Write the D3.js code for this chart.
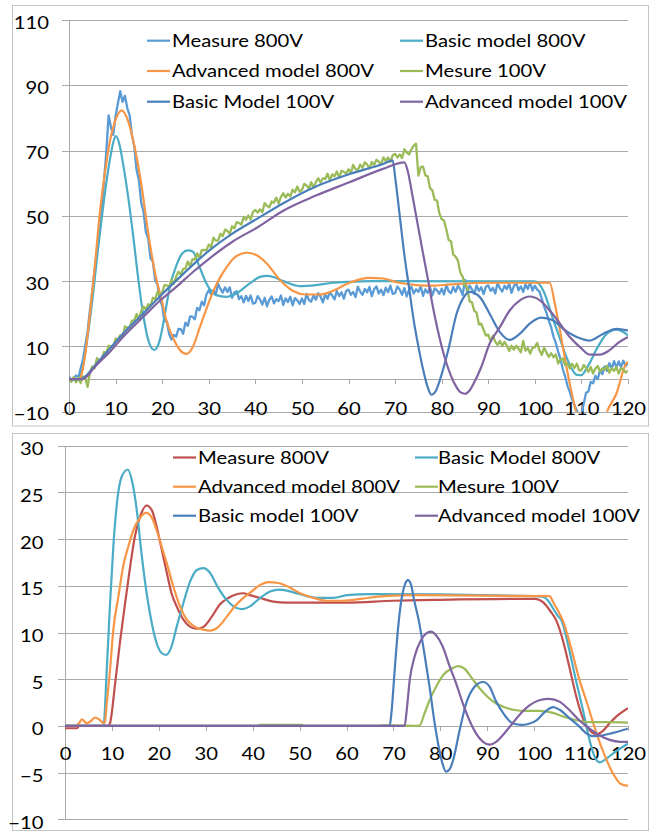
<!DOCTYPE html>
<html>
<head>
<meta charset="utf-8">
<script src="https://cdnjs.cloudflare.com/ajax/libs/d3/7.8.5/d3.min.js"></script>
<style>
  body { margin: 0; background: #fff; }
  svg { display: block; }
  text { font-family: Lato, "Liberation Sans", sans-serif; font-size: 18px; fill: #000; }
</style>
</head>
<body>
<svg id="chart" width="653" height="832"></svg>
<script>
// ---------- shared axis values ----------
const xTickValues = [0, 10, 20, 30, 40, 50, 60, 70, 80, 90, 100, 110, 120];
const topYTicks = [-10, 10, 30, 50, 70, 90, 110];
const bottomYTicks = [-10, -5, 0, 5, 10, 15, 20, 25, 30];

// ---------- upper chart: sampled measurements (one value every 0.5) ----------
const sampleStep = 0.5;
const topMeasure800 = [
  0.8, -0.6, 0.2, 1.1, 0.4, 3.2, 6.0, 10.4, 14.6, 21.3,
  26.8, 33.5, 39.4, 46.5, 52.6, 60.3, 69.4, 80.8, 77.2, 74.8,
  80.6, 84.5, 88.2, 84.9, 86.8, 83.1, 80.9, 74.8, 71.4, 64.1,
  61.0, 54.0, 51.3, 45.0, 43.1, 37.0, 36.0, 30.2, 28.9, 24.3,
  22.5, 17.7, 17.7, 13.7, 12.1, 13.5, 13.0, 15.4, 15.3, 13.9,
  17.3, 16.3, 19.2, 19.1, 18.3, 21.8, 21.1, 23.7, 22.6, 25.9,
  27.2, 26.0, 27.3, 25.9, 29.2, 27.6, 26.5, 28.1, 26.7, 28.1,
  24.9, 26.5, 26.9, 24.5, 25.4, 23.5, 25.5, 23.9, 25.6, 23.1,
  23.3, 25.4, 24.4, 22.8, 24.9, 22.3, 24.3, 25.3, 23.2, 24.5,
  23.9, 25.6, 22.7, 24.7, 23.6, 25.2, 22.6, 24.8, 24.1, 23.0,
  24.7, 23.0, 26.1, 24.2, 23.7, 25.7, 24.3, 26.3, 25.3, 23.5,
  26.0, 24.6, 26.6, 25.6, 24.4, 27.0, 25.4, 26.6, 24.6, 27.0,
  27.4, 25.8, 26.7, 25.1, 28.3, 26.8, 25.8, 27.6, 26.6, 28.2,
  25.4, 27.5, 28.4, 26.2, 27.4, 25.7, 28.0, 26.6, 28.6, 26.1,
  26.3, 28.4, 27.4, 25.8, 27.9, 25.3, 27.3, 28.3, 26.2, 27.5,
  26.7, 28.4, 25.5, 27.5, 26.4, 28.1, 25.6, 27.8, 27.2, 26.1,
  27.7, 25.9, 28.9, 26.9, 26.3, 28.2, 26.7, 28.6, 27.5, 25.7,
  30.4, 26.6, 28.6, 27.5, 26.1, 28.7, 27.0, 28.1, 26.0, 28.3,
  28.7, 27.0, 27.9, 26.2, 29.4, 27.8, 26.8, 28.6, 27.6, 29.2,
  26.4, 28.5, 29.4, 27.2, 28.4, 26.7, 29.0, 27.6, 29.6, 27.1,
  28.6, 27.4, 26.8, 24.6, 22.2, 20.3, 17.9, 15.9, 13.0, 11.1,
  8.4, 6.2, 3.0, 0.8, -2.0, -3.9, -6.3, -7.9, -9.6, -10.8,
  -10.6, -7.5, -4.2, -3.8, -0.9, -1.3, 1.0, 0.0, 2.7, 1.5,
  3.9, 2.5, 4.9, 3.2, 5.5, 3.6, 5.4, 3.7, 5.6, 4.0,
  5.1
];
const topMesure100 = [
  0.4, -0.8, 0.6, -1.0, 0.3, -1.2, 0.8, 0.2, -2.4, 2.2,
  3.9, 3.3, 6.4, 5.7, 6.0, 8.3, 7.9, 10.2, 10.1, 9.5,
  12.4, 12.0, 13.4, 12.9, 16.1, 15.8, 15.7, 17.9, 17.9, 19.9,
  18.4, 20.8, 22.2, 21.3, 22.9, 22.4, 24.9, 24.5, 26.7, 25.6,
  26.5, 28.8, 28.7, 28.2, 30.5, 29.2, 31.4, 32.9, 32.0, 33.7,
  33.9, 36.0, 34.5, 36.7, 36.6, 38.5, 37.1, 39.5, 39.6, 39.4,
  41.2, 40.4, 43.3, 42.4, 42.4, 44.5, 43.8, 45.8, 45.4, 44.5,
  46.8, 46.2, 48.1, 47.8, 47.3, 49.7, 48.8, 50.1, 48.9, 51.2,
  51.8, 51.0, 52.0, 51.1, 53.9, 53.1, 52.6, 54.4, 54.0, 55.6,
  53.8, 55.8, 56.9, 55.6, 56.8, 55.9, 58.0, 57.2, 59.0, 57.4,
  57.9, 59.8, 59.3, 58.4, 60.3, 58.6, 60.4, 61.5, 60.2, 61.5,
  61.3, 62.9, 60.9, 62.7, 62.1, 63.6, 61.8, 63.8, 63.5, 62.9,
  64.3, 63.1, 65.6, 64.3, 64.0, 65.7, 64.7, 66.4, 65.7, 64.5,
  66.5, 65.6, 67.2, 66.6, 65.8, 67.9, 66.8, 67.9, 66.5, 68.6,
  69.0, 67.9, 68.8, 67.7, 70.4, 69.4, 68.8, 70.4, 71.5, 72.1,
  62.3, 64.9, 65.1, 62.4, 62.1, 58.5, 57.8, 54.9, 54.7, 50.8,
  49.0, 48.6, 45.8, 42.6, 42.2, 38.1, 37.5, 36.2, 32.6, 31.4,
  28.7, 28.0, 23.8, 23.5, 20.9, 20.4, 16.7, 17.0, 15.1, 13.3,
  13.6, 11.6, 13.3, 11.4, 10.5, 11.7, 10.1, 11.4, 10.2, 8.6,
  10.2, 9.0, 10.2, 9.3, 8.2, 11.7, 8.7, 9.5, 7.8, 9.6,
  9.7, 11.1, 8.8, 7.4, 9.6, 8.1, 6.8, 7.9, 6.7, 7.5,
  4.8, 6.0, 6.3, 4.3, 4.8, 3.2, 4.7, 3.4, 4.7, 2.7,
  2.7, 4.3, 3.4, 2.2, 3.7, 1.7, 3.2, 4.0, 2.3, 3.3,
  2.8, 4.1, 1.9, 3.4, 2.5, 3.7, 1.7, 3.4, 2.9, 2.0,
  2.6
];

// ---------- upper chart: model curves as [time, value] ----------
const topBasic800 = [
  [0, 0], [2, 0], [2.5, 1], [3, 4], [4, 13], [5, 24], [6, 37], [7, 49], [8, 60], [9, 69],
  [9.6, 73], [10.1, 74.4], [10.8, 72], [11.6, 66], [12.7, 55.8], [13.8, 43.6], [14.9, 30.3],
  [15.9, 20], [17, 12], [18.3, 8.9], [19.5, 12], [20.6, 20], [21.6, 28], [23.1, 35],
  [24.3, 38.5], [25.5, 39.4], [26.6, 39], [28, 34.4], [29.5, 29.3], [31.6, 25.7], [33.8, 25.2],
  [35.9, 26.2], [38.8, 29.3], [41, 31.3], [42.5, 31.6], [44, 31.2], [46, 30], [49.5, 28.5],
  [53, 28.8], [56.6, 29.5], [60, 29.8], [65, 30], [100, 29.9], [101, 29], [102, 26.5],
  [103, 22.5], [104, 18], [105, 14], [106, 9.8], [107, 6], [108, 3], [109, 1.3], [110, 1.2],
  [111, 3], [112, 5.5], [113, 8.5], [114, 11], [115, 13.2], [116, 14.5], [117.5, 15.1],
  [119, 14.4], [120, 13.4]
];
const topAdvanced800 = [
  [0, 0], [2.2, 0], [2.8, 2], [3.4, 6.8], [4.5, 20], [5.6, 35.4], [6.6, 50.7], [7.7, 63],
  [8.8, 73], [9.9, 79], [11.3, 82.3], [12.7, 79], [14.1, 71], [15.6, 59], [16.6, 48.7],
  [17.7, 38.5], [18.8, 30.3], [19.9, 24.2], [20.9, 18], [22.4, 12.4], [23.8, 8.9], [25.2, 7.7],
  [26.6, 9.9], [28, 15.5], [29.5, 21.5], [31, 27], [32.4, 31], [33.8, 34.2], [35.2, 36.8],
  [37, 38.4], [38.2, 38.7], [40.2, 38], [42.4, 35.5], [45.2, 30.5], [48.1, 27], [50.9, 25.9],
  [53.8, 25.9], [56.6, 27], [60.2, 29.5], [64.5, 31], [67.4, 30.8], [70.9, 29.5], [74.5, 28.8],
  [78, 28.6], [82, 29], [90, 29.5], [103.2, 29.5], [104.3, 23], [105.4, 14.9], [106.4, 6.7],
  [107.5, -1.4], [108.6, -8.6], [110, -16], [112, -21], [114, -17], [115.5, -10],
  [117.5, -4.5], [119.6, 4.7], [120, 5.3]
];
const topBasic100 = [
  [0, 0], [2.5, 0], [3.5, 0.8], [5, 3.2], [8.8, 9.4], [12, 14.5], [15.9, 20], [19.5, 25.3],
  [23.1, 30.3], [26.6, 35], [30.2, 39.5], [35, 44.5], [40.6, 49.3], [45.9, 53.8], [53, 59],
  [60.2, 62.8], [67.4, 65.9], [69.5, 67], [70, 62], [71, 50], [72, 38], [73, 28], [74, 18],
  [75, 10], [76, 3], [77, -2.5], [77.8, -4.8], [78.8, -3.5], [79.6, -0.4], [81.4, 8.8],
  [83.2, 20], [85, 25.6], [86, 26.7], [88.2, 25.1], [90.3, 20], [92.5, 14.4], [94.6, 12],
  [96.8, 13.9], [98.9, 17], [101.4, 18.8], [103.9, 18], [106.1, 15.4], [109, 12.9],
  [111.8, 11.8], [114.7, 13.9], [117.5, 15.4], [120, 14.9]
];
const topAdvanced100 = [
  [0, 0], [3, 0], [4, 1], [5, 2.8], [8.8, 8.4], [12, 13.5], [15.9, 19], [19.5, 24],
  [23.1, 28.3], [26.6, 32.8], [30.2, 37], [35, 42], [40.6, 46.6], [45.9, 51.5], [53, 56.2],
  [60.2, 60.3], [67.4, 64.4], [72, 66.4], [72.7, 63.8], [73.8, 55.6], [74.9, 47], [76, 38.5],
  [77, 31], [78, 23], [79, 16], [80, 10], [81, 5], [82, 1], [83, -2], [84, -4], [85, -4.5],
  [86, -3.5], [87, -1], [88.5, 3.7], [90.3, 10.9], [92.5, 15.9], [94.6, 21], [96.8, 24.1],
  [98.9, 25.3], [101.1, 24.1], [103.2, 21], [105.4, 17], [107.5, 12.9], [109.7, 9.8],
  [111.8, 7.5], [114, 7.5], [116, 8.8], [118.1, 11.3], [120, 12.9]
];

// ---------- lower chart curves as [time, value] ----------
const botMeasure800 = [
  [0, -0.25], [2.6, -0.25], [3, 0], [9.3, 0], [9.6, 0.3], [10.7, 4.6], [11.7, 8.9], [12.8, 13.1],
  [13.9, 17.1], [14.9, 20.3], [16, 22.4], [17.4, 23.6], [18.5, 23.1], [19.5, 21.4], [20.6, 18.9],
  [21.7, 16.4], [22.7, 14.2], [23.8, 12.8], [25.2, 11.4], [26.7, 10.6], [28.1, 10.4], [29.5, 10.6],
  [31.3, 11.7], [33, 13], [34.8, 13.7], [36.6, 14.1], [38, 14.2], [39.4, 14], [41.6, 13.7],
  [44.4, 13.3], [47.3, 13.2], [60, 13.2], [70, 13.4], [80, 13.5], [100, 13.6], [101, 13.5],
  [102, 13.2], [103, 12.6], [104, 11.9], [104.7, 11.3], [106.1, 9.2], [107.5, 6.3], [109, 3.1],
  [110.4, 0.8], [111.9, -0.5], [113.3, -0.9], [114.7, -0.5], [116.1, 0.3], [117.5, 1], [120, 1.9]
];
const botBasic800 = [
  [0, 0], [8.2, 0], [8.9, 6], [9.6, 13.1], [10.3, 19.2], [11, 23.5], [12.1, 26.7], [13.4, 27.45],
  [14.2, 26.4], [15.3, 23.1], [16.3, 18.5], [17.4, 14.2], [18.5, 11], [19.5, 8.9], [20.6, 7.8],
  [21.5, 7.6], [22.7, 8.5], [23.8, 10.6], [25.2, 13.1], [26.7, 15.5], [28.1, 16.7], [29.5, 16.9],
  [30.9, 16.4], [32.3, 15.1], [34.1, 13.7], [35.9, 12.8], [37.7, 12.5], [39.4, 12.8], [41.6, 13.7],
  [43.7, 14.4], [45.8, 14.6], [48.7, 14.3], [51.5, 13.9], [54.4, 13.7], [57.2, 13.7], [60.1, 14],
  [65, 14.1], [100, 13.9], [102, 13.8], [103, 13.4], [104, 12.6], [105, 11.8], [105.8, 11.3],
  [107.5, 8.1], [108.9, 4.9], [110.4, 1.7], [111.8, -1.5], [112.9, -3.3], [114, -3.9],
  [115.4, -3.5], [117.2, -2.8], [119, -2.2], [120, -1.9]
];
const botAdvanced800 = [
  [0, 0], [2.3, 0], [3, 0.3], [3.6, 0.7], [4.6, 0.3], [5.5, 0.5], [6.4, 0.9], [7.5, 0.6],
  [8.2, 0.3], [8.5, 0.4], [8.9, 2.4], [9.6, 6], [10.3, 10.3], [11.4, 13.9], [12.4, 17.1],
  [13.5, 19.2], [14.6, 21], [16, 22.3], [17.3, 22.8], [18.5, 22.3], [19.5, 21], [20.6, 19.2],
  [21.7, 17.4], [23.1, 14.9], [24.5, 12.8], [25.9, 11.4], [27.7, 10.6], [29.5, 10.3],
  [30.9, 10.2], [32.7, 10.6], [34.5, 11.7], [36.2, 12.8], [38, 13.7], [39.8, 14.4],
  [41.6, 15.1], [43.4, 15.4], [45.5, 15.3], [48, 14.8], [50.1, 14.2], [53, 13.7], [55.8, 13.4],
  [59.3, 13.4], [63, 13.6], [68, 13.9], [75, 14], [103.3, 13.9], [104, 13.3], [105, 12.4],
  [106.1, 11.3], [107.8, 8.5], [109.5, 5.2], [111.3, 2.4], [113.1, -0.5], [114.9, -3],
  [116.6, -4.9], [118.4, -6.2], [119.8, -6.4], [120, -6.4]
];
const botMesure100 = [
  [0, 0], [41, 0], [41.5, 0.1], [50.5, 0.1], [51, 0], [67, 0], [67.5, 0.05], [70, 0.05],
  [75.5, 0], [76.6, 1.3], [77.7, 2.75], [79.1, 4.2], [80.9, 5.6], [82.3, 6.1], [83.8, 6.4],
  [85.2, 6.1], [86.6, 5.2], [88.4, 4], [90.1, 3.1], [91.9, 2.4], [93.7, 2], [95.8, 1.7],
  [98.3, 1.6], [101.2, 1.6], [104, 1.4], [106.2, 1], [109, 0.6], [111.9, 0.4], [116.1, 0.4],
  [120, 0.35]
];
const botBasic100 = [
  [0, 0], [69.2, 0], [69.6, 1.5], [70.2, 5.5], [71, 10.5], [71.8, 13.8], [72.5, 15.2],
  [73.1, 15.6], [73.7, 15.2], [74.4, 13.5], [75.4, 11.3], [76.6, 7.75], [77.7, 4.2], [78.7, 0.6],
  [79.8, -2.6], [80.5, -4.1], [81.2, -4.9], [81.9, -4.7], [82.7, -3.7], [84.1, -0.5], [85.5, 2.4],
  [87.3, 4.2], [89.1, 4.7], [90.5, 4.2], [91.9, 2.6], [93.7, 1.15], [95.5, 0.25], [97.3, 0.1],
  [98.7, 0.2], [100.5, 0.6], [102.3, 1.5], [104.1, 2], [105.5, 1.7], [107.6, 0.8], [109.7, -0.1],
  [111.1, -0.8], [112.6, -1.1], [114.7, -1], [116.8, -0.75], [120, -0.3]
];
const botAdvanced100 = [
  [0, 0], [72.4, 0], [72.8, 1.5], [73.5, 5], [74.5, 7.4], [75.9, 9.2], [77, 9.9], [78, 10.1],
  [79.1, 9.7], [80.5, 8.5], [81.9, 6.5], [83.4, 4.5], [84.8, 2.4], [86.2, 0.6], [87.6, -0.8],
  [89.1, -1.7], [90.5, -2], [91.9, -1.7], [93.3, -1], [95.1, 0.1], [96.8, 1.15], [99, 2.2],
  [101.1, 2.75], [103.2, 2.9], [105.4, 2.6], [107.5, 1.7], [109.6, 0.6], [111.8, -0.3],
  [113.9, -1], [116.1, -1.5], [118.3, -1.7], [120, -1.7]
];

// ---------- palette ----------
const colors = {
  lightBlue: "#5b9bd5", blue: "#4a7ebb", aqua: "#4bacc6", orange: "#f79646",
  green: "#9bbb59", purple: "#8064a2", red: "#c0504d"
};

// measured series are sampled on a regular time base
const toPairs = vals => vals.map((v, i) => [i * sampleStep, v]);

const topSeries = [
  { name: "Measure 800V", color: colors.lightBlue, data: toPairs(topMeasure800), sampled: true },
  { name: "Basic model 800V", color: colors.aqua, data: topBasic800 },
  { name: "Advanced model 800V", color: colors.orange, data: topAdvanced800 },
  { name: "Mesure 100V", color: colors.green, data: toPairs(topMesure100), sampled: true },
  { name: "Basic Model 100V", color: colors.blue, data: topBasic100 },
  { name: "Advanced model 100V", color: colors.purple, data: topAdvanced100 }
];
const bottomSeries = [
  { name: "Measure 800V", color: colors.red, data: botMeasure800 },
  { name: "Basic Model 800V", color: colors.aqua, data: botBasic800 },
  { name: "Advanced model 800V", color: colors.orange, data: botAdvanced800 },
  { name: "Mesure 100V", color: colors.green, data: botMesure100 },
  { name: "Basic model 100V", color: colors.blue, data: botBasic100 },
  { name: "Advanced model 100V", color: colors.purple, data: botAdvanced100 }
];

const svg = d3.select("#chart");
svg.append("rect").attr("width", 653).attr("height", 832).attr("fill", "#fff");

// Text in this chart is slightly wide; derive a horizontal stretch from a sample label.
const probe = svg.append("text").text("Measure 800V");
const stretch = 131 / probe.node().getComputedTextLength();
probe.remove();

function stretchedText(sel, x, y, anchor) {
  sel.attr("x", 0).attr("y", 0)
    .attr("text-anchor", anchor)
    .attr("transform", `translate(${x},${y}) scale(${stretch},1)`);
}

const gridColor = "#a9a9a9";
const frameColor = "#c4c4c4";

function drawPanel(cfg) {
  const g = svg.append("g");
  // chart frame
  g.append("rect")
    .attr("x", cfg.frame[0]).attr("y", cfg.frame[1])
    .attr("width", cfg.frame[2]).attr("height", cfg.frame[3])
    .attr("fill", "none").attr("stroke", frameColor).attr("stroke-width", 1);

  const x = d3.scaleLinear().domain([0, 120]).range([cfg.left, cfg.right]);
  const y = d3.scaleLinear().domain(cfg.yDomain).range([cfg.bottom, cfg.top]);

  // horizontal gridlines, extending past the axis as outside tick marks
  const grid = d3.axisLeft(y).tickValues(cfg.yTicks)
    .tickSize(-(cfg.right - cfg.left + 7)).tickFormat("");
  g.append("g").attr("transform", `translate(${cfg.left - 7},0)`).call(grid)
    .call(s => s.select(".domain").remove())
    .call(s => s.selectAll("line").attr("stroke", gridColor).attr("shape-rendering", "crispEdges"));

  // y tick labels
  const yl = d3.axisLeft(y).tickValues(cfg.yTicks).tickSize(0).tickFormat(d3.format("d"));
  g.append("g").attr("transform", `translate(${cfg.left},0)`).call(yl)
    .call(s => s.select(".domain").remove())
    .call(s => s.selectAll("text").attr("font-family", null).attr("font-size", null)
      .attr("dy", null).each(function () {
        stretchedText(d3.select(this), -cfg.yLabelGap, cfg.yLabelDy, "end");
      }));

  // vertical axis line
  g.append("line")
    .attr("x1", cfg.left).attr("x2", cfg.left)
    .attr("y1", cfg.top).attr("y2", cfg.bottom)
    .attr("stroke", gridColor).attr("shape-rendering", "crispEdges");

  // horizontal axis through zero with tick marks below it
  const xa = d3.axisBottom(x).tickValues(xTickValues).tickSizeInner(5).tickSizeOuter(0).tickFormat(d3.format("d"));
  g.append("g").attr("transform", `translate(0,${y(0)})`).call(xa)
    .call(s => s.select(".domain").attr("stroke", gridColor).attr("shape-rendering", "crispEdges"))
    .call(s => s.selectAll("line").attr("stroke", gridColor).attr("shape-rendering", "crispEdges"))
    .call(s => s.selectAll("text").attr("font-family", null).attr("font-size", null)
      .attr("dy", null).each(function () {
        stretchedText(d3.select(this), 0, cfg.xLabelDrop, "middle");
      }));

  // series, clipped to the plot area
  const clipId = "clip-" + cfg.id;
  svg.append("clipPath").attr("id", clipId).append("rect")
    .attr("x", cfg.left).attr("y", cfg.top)
    .attr("width", cfg.right - cfg.left).attr("height", cfg.bottom - cfg.top);

  const smooth = d3.line().x(d => x(d[0])).y(d => y(d[1])).curve(d3.curveMonotoneX);
  const raw = d3.line().x(d => x(d[0])).y(d => y(d[1]));

  const plot = g.append("g").attr("clip-path", `url(#${clipId})`);
  plot.selectAll("path.series").data(cfg.series).join("path")
    .attr("class", "series")
    .attr("d", s => (s.sampled ? raw : smooth)(s.data))
    .attr("fill", "none")
    .attr("stroke", s => s.color)
    .attr("stroke-width", s => s.sampled ? 2.3 : 2.2)
    .attr("stroke-linejoin", "round");

  // legend: two columns, three rows
  const leg = g.append("g");
  cfg.series.forEach((s, i) => {
    const col = cfg.legendCols[i % 2];
    const rowY = cfg.legendRows[Math.floor(i / 2)];
    leg.append("line")
      .attr("x1", col[0]).attr("x2", col[0] + 23)
      .attr("y1", rowY).attr("y2", rowY)
      .attr("stroke", s.color).attr("stroke-width", 2.2);
    stretchedText(leg.append("text").text(s.name), col[1], rowY + 6, "start");
  });
}

drawPanel({
  id: "top", frame: [12.5, 5.5, 636, 420.5],
  left: 69, right: 628, top: 20, bottom: 411.7,
  yDomain: [-10, 110], yTicks: topYTicks,
  yLabelGap: 20, yLabelDy: 8, xLabelDrop: 36,
  legendRows: [40.7, 71, 101.7], legendCols: [[147, 172], [400, 425]],
  series: topSeries
});

drawPanel({
  id: "bottom", frame: [12.5, 433.5, 636, 397],
  left: 65, right: 628, top: 445.7, bottom: 819.3,
  yDomain: [-10, 30], yTicks: bottomYTicks,
  yLabelGap: 21.5, yLabelDy: 9, xLabelDrop: 34,
  legendRows: [457.5, 486.7, 515.7], legendCols: [[173, 198], [415, 438]],
  series: bottomSeries
});
</script>
</body>
</html>
